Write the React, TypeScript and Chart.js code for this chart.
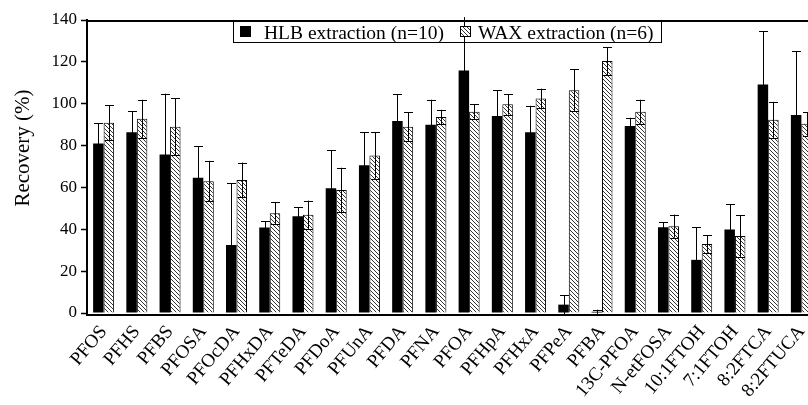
import React, { useEffect, useRef } from 'react';
import { Chart, registerables } from 'chart.js';

Chart.register(...registerables);

const categories = ['PFOS', 'PFHS', 'PFBS', 'PFOSA', 'PFOcDA', 'PFHxDA', 'PFTeDA', 'PFDoA', 'PFUnA', 'PFDA', 'PFNA', 'PFOA', 'PFHpA', 'PFHxA', 'PFPeA', 'PFBA', '13C-PFOA', 'N-etFOSA', '10:1FTOH', '7:1FTOH', '8:2FTCA', '8:2FTUCA'];
const hlbMean = [81.0, 86.4, 75.7, 64.6, 32.5, 40.8, 46.2, 59.6, 70.6, 91.7, 89.9, 115.9, 94.1, 86.4, 4.0, 0.6, 89.3, 41.0, 25.4, 39.9, 109.2, 94.6];
const hlbSd = [9.7, 10.1, 29.1, 15.1, 29.4, 3.1, 4.4, 18.1, 15.8, 12.9, 12.0, 25.5, 12.4, 12.6, 4.5, 1.0, 4.0, 2.4, 15.7, 12.1, 25.5, 30.6];
const waxMean = [90.9, 92.8, 89.0, 63.0, 63.6, 47.7, 47.0, 58.8, 75.3, 89.0, 93.6, 96.2, 99.7, 102.5, 106.4, 120.4, 96.2, 41.5, 33.0, 36.8, 92.3, 90.4];
const waxSd = [8.4, 9.1, 13.5, 9.7, 8.3, 5.2, 6.7, 10.6, 11.1, 7.0, 3.5, 3.6, 4.9, 4.7, 10.0, 6.7, 5.7, 5.5, 4.2, 9.8, 8.6, 5.6];
const yTicks = [0, 20, 40, 60, 80, 100, 120, 140];
const seriesLabels = ['HLB extraction (n=10)', 'WAX extraction (n=6)'];
const yTitle = 'Recovery (%)';

const SERIF = '"Liberation Serif", "Times New Roman", serif';

function makeHatch(): CanvasPattern | string {
  const c = document.createElement('canvas');
  c.width = 4;
  c.height = 4;
  const g = c.getContext('2d');
  if (!g) return '#888';
  g.fillStyle = '#fff';
  g.fillRect(0, 0, 4, 4);
  g.strokeStyle = '#333';
  g.lineWidth = 1;
  g.beginPath();
  g.moveTo(-1, -1); g.lineTo(5, 5);
  g.moveTo(-1, 3); g.lineTo(1, 5);
  g.moveTo(3, -1); g.lineTo(5, 1);
  g.stroke();
  return g.createPattern(c, 'repeat') || '#888';
}

export default function App() {
  const ref = useRef<HTMLCanvasElement | null>(null);

  useEffect(() => {
    if (!ref.current) return;
    const hatch = makeHatch();
    const sds = [hlbSd, waxSd];

    const errorBars = {
      id: 'errorBars',
      afterDatasetsDraw(chart: any) {
        const ctx = chart.ctx;
        const ys = chart.scales.y;
        ctx.save();
        ctx.strokeStyle = '#000';
        ctx.lineWidth = 1;
        chart.data.datasets.forEach((ds: any, di: number) => {
          const meta = chart.getDatasetMeta(di);
          meta.data.forEach((el: any, i: number) => {
            const m = ds.data[i];
            const s = sds[di][i];
            const x = Math.round(el.x) + 0.5;
            const yt = ys.getPixelForValue(m + s);
            const yb = ys.getPixelForValue(Math.max(m - s, ys.min));
            const hw = 4.5;
            ctx.beginPath();
            ctx.moveTo(x, yb);
            ctx.lineTo(x, yt);
            if (m + s <= ys.max) {
              ctx.moveTo(x - hw, Math.round(yt) + 0.5);
              ctx.lineTo(x + hw, Math.round(yt) + 0.5);
            }
            ctx.moveTo(x - hw, Math.round(yb) + 0.5);
            ctx.lineTo(x + hw, Math.round(yb) + 0.5);
            ctx.stroke();
          });
        });
        ctx.restore();
      },
    };

    const decorations = {
      id: 'decorations',
      afterDraw(chart: any) {
        const ctx = chart.ctx;
        const a = chart.chartArea;
        ctx.save();
        // top frame line
        ctx.strokeStyle = '#000';
        ctx.lineWidth = 2;
        ctx.beginPath();
        ctx.moveTo(a.left - 1, a.top + 1);
        ctx.lineTo(a.right, a.top + 1);
        ctx.stroke();

        // legend box
        ctx.lineWidth = 1;
        ctx.strokeRect(233.5, 21.5, 428, 21);
        ctx.fillStyle = '#000';
        ctx.fillRect(240, 26, 11, 11);
        ctx.fillStyle = hatch as any;
        ctx.fillRect(460, 26, 11, 11);
        ctx.strokeRect(460.5, 26.5, 10, 10);
        ctx.fillStyle = '#000';
        ctx.font = '19.5px ' + SERIF;
        ctx.textAlign = 'left';
        ctx.textBaseline = 'alphabetic';
        ctx.fillText(seriesLabels[0], 264, 38.5);
        ctx.fillText(seriesLabels[1], 478, 38.5);

        // y title
        ctx.translate(23, 148);
        ctx.rotate(-Math.PI / 2);
        ctx.textAlign = 'center';
        ctx.textBaseline = 'middle';
        ctx.font = '21px ' + SERIF;
        ctx.fillText(yTitle, 0, 0);
        ctx.restore();
      },
    };

    const chart = new Chart(ref.current, {
      type: 'bar',
      data: {
        labels: categories,
        datasets: [
          {
            label: seriesLabels[0],
            data: hlbMean,
            backgroundColor: '#000',
            borderColor: '#000',
            borderWidth: 0,
            categoryPercentage: 0.632,
            barPercentage: 1,
          },
          {
            label: seriesLabels[1],
            data: waxMean,
            backgroundColor: hatch as any,
            borderColor: '#000',
            borderWidth: 1,
            categoryPercentage: 0.632,
            barPercentage: 1,
          },
        ],
      },
      options: {
        responsive: false,
        animation: false,
        layout: { padding: { top: 20, right: 12, left: 0, bottom: 0 } },
        plugins: {
          legend: { display: false },
          tooltip: { enabled: false },
        },
        scales: {
          x: {
            grid: { display: false, drawTicks: false },
            border: { display: true, color: '#000', width: 2 },
            ticks: {
              autoSkip: false,
              maxRotation: 50,
              minRotation: 50,
              padding: 6,
              color: '#000',
              font: { family: SERIF, size: 19 },
            },
            afterFit(s: any) {
              s.height = 90;
            },
          },
          y: {
            min: -0.95,
            max: 140,
            grid: { drawOnChartArea: false, drawTicks: true, tickLength: 6, tickWidth: 1.5, tickColor: '#000' },
            border: { display: true, color: '#000', width: 2 },
            ticks: {
              padding: 4,
              color: '#000',
              font: { family: SERIF, size: 17 },
            },
            afterBuildTicks(s: any) {
              s.ticks = yTicks.map((v) => ({ value: v }));
            },
            afterFit(s: any) {
              s.width = 87;
            },
          },
        },
      },
      plugins: [errorBars, decorations],
    });
    return () => chart.destroy();
  }, []);

  return (
    <div style={{ position: 'absolute', left: 0, top: 0, width: 808, height: 405, overflow: 'hidden', background: '#fff' }}>
      <canvas ref={ref} width={830} height={405} style={{ width: 830, height: 405, display: 'block' }} />
    </div>
  );
}
